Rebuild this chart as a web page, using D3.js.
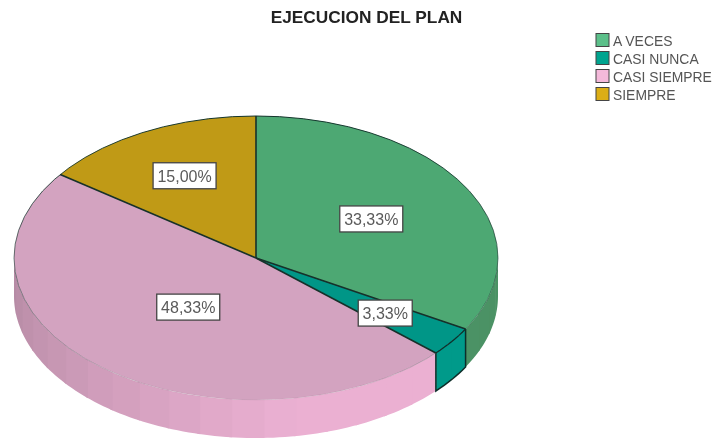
<!DOCTYPE html>
<html>
<head>
<meta charset="utf-8">
<script src="https://cdn.jsdelivr.net/npm/d3@7"></script>
<style>
body { margin: 0; background: #fff; }
text { font-family: "Liberation Sans", Arial, sans-serif; }
</style>
</head>
<body>
<div id="chart"></div>
<script>
const categories = ['A VECES', 'CASI NUNCA', 'CASI SIEMPRE', 'SIEMPRE'];
const values = [33.33, 3.33, 48.33, 15.00];
const labels = ['33,33%', '3,33%', '48,33%', '15,00%'];

const topColors = ['#4ea873', '#009687', '#d3a3c0', '#c09a18'];
const legendColors = ['#5cc08a', '#00a48f', '#f4b9da', '#dcae12'];
const sideDark = ['#47875c', '#008f80', '#b48aa3', '#9a7d12'];
const sideLight = ['#4c9265', '#009a8a', '#ebb0d2', '#a88912'];
const labelRadius = [0.55, 0.66, 0.445, 0.65];

const width = 715, height = 438;
const cx = 256, cy = 258, rx = 242, ry = 142, depth = 38;

const svg = d3.select('#chart').append('svg')
    .attr('width', width)
    .attr('height', height)
    .style('display', 'block');

const defs = svg.append('defs');
defs.append('filter').attr('id', 'soft')
    .append('feGaussianBlur').attr('stdDeviation', 0.45);

// rim of the top face fades out towards the front
const rimGrad = defs.append('linearGradient')
    .attr('id', 'rim')
    .attr('gradientUnits', 'userSpaceOnUse')
    .attr('x1', 0).attr('x2', 0)
    .attr('y1', cy - ry).attr('y2', cy + ry);
rimGrad.append('stop').attr('offset', 0).attr('stop-color', '#14352c');
rimGrad.append('stop').attr('offset', 0.55).attr('stop-color', '#14352c').attr('stop-opacity', 0.55);
rimGrad.append('stop').attr('offset', 1).attr('stop-color', '#14352c').attr('stop-opacity', 0.05);

const root = svg.append('g').attr('filter', 'url(#soft)');

// title
root.append('text')
    .attr('x', 366.5)
    .attr('y', 23)
    .attr('text-anchor', 'middle')
    .attr('font-size', 17.3)
    .attr('font-weight', 'bold')
    .attr('fill', '#222')
    .text('EJECUCION DEL PLAN');

const pie = d3.pie().sort(null).value(d => d);
const slices = pie(values);

// point on the tilted ellipse, angle clockwise from the top
function ex(a) { return cx + rx * Math.sin(a); }
function ey(a) { return cy - ry * Math.cos(a); }

// side wall, only the front half of the ellipse shows
const side = root.append('g');
const band = 8 * Math.PI / 180;
const left = 1.5 * Math.PI, right = 0.5 * Math.PI;

slices.forEach((s, i) => {
    const a0 = Math.max(s.startAngle, right);
    const a1 = Math.min(s.endAngle, left);
    if (a1 <= a0) return;
    const shade = d3.scaleLinear().domain([left, 0.95 * Math.PI]).range([0, 1]).clamp(true);
    const col = d3.interpolateRgb(sideDark[i], sideLight[i]);
    const n = Math.max(1, Math.ceil((a1 - a0) / band));
    d3.range(n).forEach(k => {
        const b0 = a0 + (a1 - a0) * k / n;
        const b1 = a0 + (a1 - a0) * (k + 1) / n;
        // a small overlap so no seam shows between bands
        const steps = d3.range(7).map(j => b0 + (Math.min(b1 + 0.012, a1) - b0) * j / 6);
        const p = d3.path();
        steps.forEach((a, j) => j ? p.lineTo(ex(a), ey(a)) : p.moveTo(ex(a), ey(a)));
        steps.slice().reverse().forEach(a => p.lineTo(ex(a), ey(a) + depth));
        p.closePath();
        side.append('path')
            .attr('d', p.toString())
            .attr('fill', col(shade((b0 + b1) / 2)));
    });
});

// dark edges of the small slice on the wall
const edge = s => {
    const p = d3.path();
    p.moveTo(ex(s.startAngle), ey(s.startAngle));
    p.lineTo(ex(s.startAngle), ey(s.startAngle) + depth);
    const n = 8;
    d3.range(1, n + 1).forEach(k => {
        const a = s.startAngle + (s.endAngle - s.startAngle) * k / n;
        p.lineTo(ex(a), ey(a) + depth);
    });
    p.lineTo(ex(s.endAngle), ey(s.endAngle));
    return p.toString();
};
side.append('path')
    .attr('d', edge(slices[1]))
    .attr('fill', 'none')
    .attr('stroke', '#0c2f2a')
    .attr('stroke-width', 1.5);

// top face
const arc = d3.arc().innerRadius(0).outerRadius(rx);
root.append('g')
    .attr('transform', `translate(${cx},${cy}) scale(1,${ry / rx})`)
    .selectAll('path')
    .data(slices)
    .join('path')
    .attr('d', arc)
    .attr('fill', (d, i) => topColors[i]);

root.append('ellipse')
    .attr('cx', cx)
    .attr('cy', cy)
    .attr('rx', rx)
    .attr('ry', ry)
    .attr('fill', 'none')
    .attr('stroke', 'url(#rim)')
    .attr('stroke-width', 1);

// slice borders
root.append('g')
    .selectAll('line')
    .data(slices)
    .join('line')
    .attr('x1', cx)
    .attr('y1', cy)
    .attr('x2', d => ex(d.startAngle))
    .attr('y2', d => ey(d.startAngle))
    .attr('stroke', '#16302a')
    .attr('stroke-width', 1.6);

// small slice front corner
root.append('path')
    .attr('d', () => {
        const s = slices[1];
        const p = d3.path();
        const n = 8;
        d3.range(n + 1).forEach(k => {
            const a = s.startAngle + (s.endAngle - s.startAngle) * k / n;
            k ? p.lineTo(ex(a), ey(a)) : p.moveTo(ex(a), ey(a));
        });
        return p.toString();
    })
    .attr('fill', 'none')
    .attr('stroke', '#0c2f2a')
    .attr('stroke-width', 1.2);

// value labels
const labelGroup = root.append('g');
slices.forEach((s, i) => {
    const a = (s.startAngle + s.endAngle) / 2;
    const lx = cx + rx * labelRadius[i] * Math.sin(a);
    const ly = cy - ry * labelRadius[i] * Math.cos(a);
    const w = i === 1 ? 54 : 63;
    labelGroup.append('rect')
        .attr('x', lx - w / 2)
        .attr('y', ly - 13)
        .attr('width', w)
        .attr('height', 26)
        .attr('fill', '#fff')
        .attr('stroke', '#444')
        .attr('stroke-width', 1.3);
    labelGroup.append('text')
        .attr('x', lx)
        .attr('y', ly + 6)
        .attr('text-anchor', 'middle')
        .attr('font-size', 16)
        .attr('fill', '#5a5a5a')
        .text(labels[i]);
});

// legend
const legendY = d3.scaleBand().domain(categories).range([32, 104]);
const legend = root.append('g');
legend.selectAll('rect')
    .data(categories)
    .join('rect')
    .attr('x', 596)
    .attr('y', d => legendY(d) + 1.5)
    .attr('width', 13)
    .attr('height', 13)
    .attr('fill', (d, i) => legendColors[i])
    .attr('stroke', '#444')
    .attr('stroke-width', 1);
legend.selectAll('text')
    .data(categories)
    .join('text')
    .attr('x', 613)
    .attr('y', d => legendY(d) + 13.5)
    .attr('font-size', 13.9)
    .attr('fill', '#555')
    .text(d => d);
</script>
</body>
</html>
